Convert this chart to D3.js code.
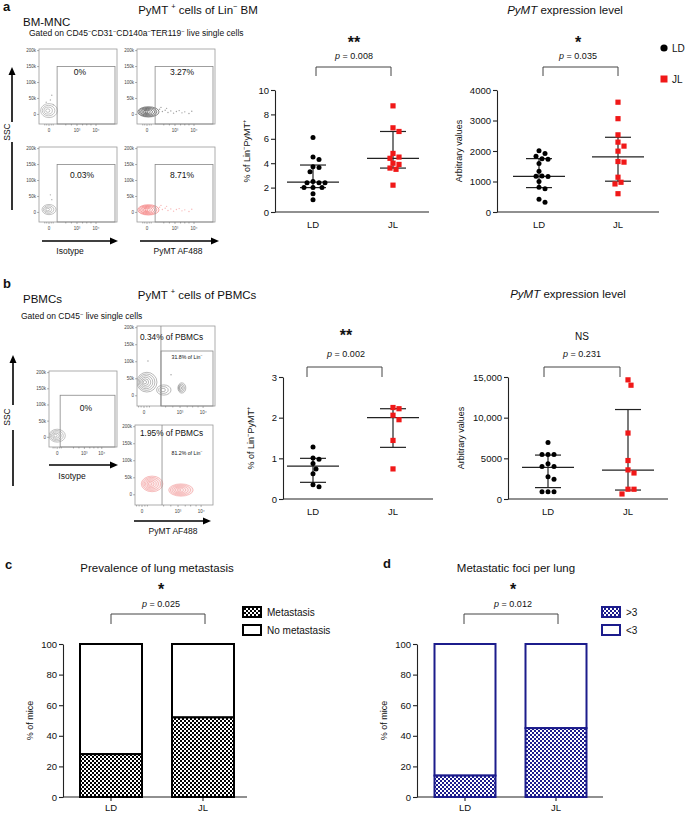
<!DOCTYPE html>
<html>
<head>
<meta charset="utf-8">
<script src="https://cdnjs.cloudflare.com/ajax/libs/d3/7.8.5/d3.min.js"></script>
<style>
body { margin: 0; background: #fff; }
svg { display: block; font-family: "Liberation Sans", Arial, sans-serif; }
</style>
</head>
<body>
<script>
// ---- data ----
var groups = ["LD", "JL"];

// a: % of Lin-PyMT+ in BM, and PyMT expression
var bmPctLD = [6.1, 4.5, 4.3, 3.7, 3.65, 3.3, 2.5, 2.4, 2.4, 2.4, 2.0, 2.0, 2.0, 1.5, 1.0];
var bmPctJL = [8.7, 6.9, 6.6, 4.8, 4.5, 4.4, 4.0, 3.9, 3.6, 3.5, 2.2];
var bmExprLD = [2010, 1920, 1830, 1750, 1730, 1590, 1340, 1175, 1165, 1180, 1000, 810, 760, 420, 320];
var bmExprJL = [3600, 3060, 2530, 2290, 2160, 1995, 1655, 1635, 1140, 975, 920, 600];

// b: PBMCs
var pbPctLD = [1.28, 1.01, 0.98, 0.87, 0.74, 0.62, 0.35, 0.3];
var pbPctJL = [2.25, 2.22, 2.06, 1.95, 1.44, 0.74];
var pbExprLD = [6950, 5470, 5470, 5470, 4320, 3990, 3990, 2750, 2430, 900, 900, 900];
var pbExprJL = [14650, 13990, 8110, 4730, 3580, 3200, 1200, 1200, 620];

// median, lower quartile, upper quartile as drawn
var bmPctSummary = [[2.45, 2.0, 3.85], [4.4, 3.6, 6.6]];
var bmExprSummary = [[1170, 800, 1750], [1810, 1010, 2450]];
var pbPctSummary = [[0.81, 0.41, 1.0], [2.0, 1.27, 2.22]];
var pbExprSummary = [[3900, 1400, 5400], [3550, 1100, 11000]];

// c, d: stacked percentages
var metastasis = [28, 52];
var fociOver3 = [14, 45];

// tick labels
var pctTicksA = [0, 2, 4, 6, 8, 10];
var exprTicksA = [0, 1000, 2000, 3000, 4000];
var pctTicksB = [0, 1, 2, 3];
var exprTicksB = [0, 5000, 10000, 15000];
var exprTicksBLabels = ["0", "5000", "10,000", "15,000"];
var barTicks = [0, 20, 40, 60, 80, 100];
var flowYTicks = [0, 50000, 100000, 150000, 200000];
var flowYLabels = ["0", "50k", "100k", "150k", "200k"];
var flowXLabels = ["0", "10\u00b3", "10\u2074"];

// flow cytometry populations (display units on x, SSC on y)
var isoBlobA = [{x: 0, y: 12000, rx: 0.3, ry: 22000, n: 4}];
var isoDotsA = [[0.05, 45000], [-0.1, 38000], [0.1, 60000], [0.15, 30000]];
var pymtBlobA = [{x: 0.05, y: 8000, rx: 0.38, ry: 16000, n: 6}];
var pymtTailA = [[0.45, 16000], [0.55, 9000], [0.65, 13000], [0.75, 6000], [0.85, 11000], [0.95, 4000],
  [1.05, 9000], [1.15, 12000], [1.25, 5000], [1.35, 8000], [1.5, 3000], [0.5, 22000], [0.7, 19000], [1.6, 10000]];
var isoBlobA2 = [{x: 0, y: 9000, rx: 0.25, ry: 16000, n: 4}];
var isoDotsA2 = [[0.1, 40000], [0.05, 55000]];
var isoBlobB = [{x: 0, y: 5000, rx: 0.3, ry: 20000, n: 5}];
var pbBlobTop = [{x: 0.08, y: 40000, rx: 0.28, ry: 29000, n: 6}, {x: 0.55, y: 17000, rx: 0.2, ry: 15000, n: 3},
  {x: 1.05, y: 23000, rx: 0.11, ry: 15000, n: 4}];
var pbDotsTop = [[0.11, 102000], [0.75, 62000]];
var pbBlobBot = [{x: 0.28, y: 32000, rx: 0.3, ry: 23000, n: 6}, {x: 1.08, y: 14000, rx: 0.34, ry: 18000, n: 6}];

var RED = "#f01818";
var NAVY = "#1c1c8c";

var svg = d3.select("body").append("svg").attr("width", 685).attr("height", 813);

var defs = svg.append("defs");
function checks(id, col) {
	var p = defs.append("pattern").attr("id", id).attr("width", 4).attr("height", 4)
		.attr("patternUnits", "userSpaceOnUse");
	p.append("rect").attr("width", 4).attr("height", 4).attr("fill", "#fff");
	p.append("rect").attr("width", 2).attr("height", 2).attr("fill", col);
	p.append("rect").attr("x", 2).attr("y", 2).attr("width", 2).attr("height", 2).attr("fill", col);
}
checks("chkBlack", "#000");
checks("chkNavy", NAVY);

// text with italic / superscript pieces
function addText(x, y, parts, fs, anchor, weight, rotate) {
	var t = svg.append("text").attr("font-size", fs).attr("text-anchor", anchor || "start").attr("fill", "#111");
	if (rotate) t.attr("transform", "translate(" + x + "," + y + ") rotate(-90)");
	else t.attr("x", x).attr("y", y);
	if (weight) t.attr("font-weight", weight);
	if (typeof parts === "string") parts = [{t: parts}];
	var shift = 0;
	parts.forEach(function(p) {
		var s = t.append("tspan").text(p.t);
		if (p.it) s.attr("font-style", "italic");
		if (p.sup) {
			s.attr("font-size", fs * 0.65).attr("dy", -fs * 0.4 - shift);
			shift = -fs * 0.4;
		} else {
			if (shift) s.attr("dy", -shift);
			shift = 0;
		}
	});
	return t;
}

function bracket(x1, x2, top, bot, star, starSize, starY, pval, pY, cx) {
	svg.append("path")
		.attr("d", "M" + x1 + "," + bot + "V" + top + "H" + x2 + "V" + bot)
		.attr("fill", "none").attr("stroke", "#444").attr("stroke-width", 1);
	addText(cx, starY, star, starSize, "middle", star === "NS" ? null : "bold");
	addText(cx, pY, [{t: "p", it: true}, {t: " = " + pval}], 9, "middle");
}

// beeswarm-like spreading of equal values
function dodge(values, y, minDist, step) {
	var idx = values.map(function(v, i) { return i; }).sort(function(a, b) { return values[b] - values[a]; });
	var placed = [], off = [];
	idx.forEach(function(i) {
		var py = y(values[i]);
		for (var k = 0; k < 30; k++) {
			var cand = (k % 2 === 1 ? 1 : -1) * Math.ceil(k / 2) * step;
			var ok = placed.every(function(p) { return Math.hypot(p.x - cand, p.y - py) >= minDist; });
			if (ok) { off[i] = cand; placed.push({x: cand, y: py}); break; }
		}
	});
	return off;
}

function scatter(c) {
	var y = d3.scaleLinear().domain([0, c.max]).range([c.yBottom, c.yTop]);
	var x = d3.scalePoint().domain(groups).range([c.xLD, c.xJL]);
	var ax = svg.append("g").attr("transform", "translate(" + c.axisX + ",0)")
		.call(d3.axisLeft(y).tickValues(c.ticks).tickSize(4).tickSizeOuter(0)
			.tickFormat(function(d, i) { return c.tickLabels ? c.tickLabels[i] : d; }));
	ax.attr("font-family", null).attr("font-size", 9.5);
	ax.selectAll("path, line").attr("stroke", "#222").attr("stroke-width", 1.1);
	ax.selectAll("text").attr("fill", "#111").attr("x", -6);
	svg.append("line").attr("x1", c.axisX).attr("x2", c.xEnd).attr("y1", c.yBottom).attr("y2", c.yBottom)
		.attr("stroke", "#222").attr("stroke-width", 1.1);
	groups.forEach(function(g) { addText(x(g), c.yBottom + 16, g, 9.5, "middle"); });

	[c.ld, c.jl].forEach(function(vals, gi) {
		var cx = x(groups[gi]);
		var s = c.summary[gi];
		var stroke = "#222";
		svg.append("line").attr("x1", cx).attr("x2", cx).attr("y1", y(s[1])).attr("y2", y(s[2]))
			.attr("stroke", stroke).attr("stroke-width", 1.2);
		svg.append("line").attr("x1", cx - 26).attr("x2", cx + 26).attr("y1", y(s[0])).attr("y2", y(s[0]))
			.attr("stroke", stroke).attr("stroke-width", 1.2);
		[s[1], s[2]].forEach(function(q) {
			svg.append("line").attr("x1", cx - 13).attr("x2", cx + 13).attr("y1", y(q)).attr("y2", y(q))
				.attr("stroke", stroke).attr("stroke-width", 1.2);
		});
		var off = dodge(vals, y, 5.6, 3);
		var pts = svg.append("g").selectAll(gi === 0 ? "circle" : "rect").data(vals).enter();
		if (gi === 0) {
			pts.append("circle").attr("cx", function(d, i) { return cx + off[i]; })
				.attr("cy", function(d) { return y(d); }).attr("r", 2.5).attr("fill", "#000");
		} else {
			pts.append("rect").attr("x", function(d, i) { return cx + off[i] - 2.6; })
				.attr("y", function(d) { return y(d) - 2.6; }).attr("width", 5.2).attr("height", 5.2).attr("fill", RED);
		}
	});
	addText(c.labelX, (c.yBottom + c.yTop) / 2, c.yLabel, 9, "middle", null, true);
}

function bars(c) {
	var y = d3.scaleLinear().domain([0, 100]).range([c.yBottom, c.yTop]);
	var x = d3.scalePoint().domain(groups).range([c.xLD, c.xJL]);
	var ax = svg.append("g").attr("transform", "translate(" + c.axisX + ",0)")
		.call(d3.axisLeft(y).tickValues(barTicks).tickSize(4).tickSizeOuter(0));
	ax.attr("font-family", null).attr("font-size", 9.5);
	ax.selectAll("path, line").attr("stroke", "#222").attr("stroke-width", 1.1);
	ax.selectAll("text").attr("fill", "#111").attr("x", -6);
	svg.append("line").attr("x1", c.axisX).attr("x2", c.xEnd).attr("y1", c.yBottom).attr("y2", c.yBottom)
		.attr("stroke", "#222").attr("stroke-width", 1.1);
	groups.forEach(function(g, i) {
		var cx = x(g);
		svg.append("line").attr("x1", cx).attr("x2", cx).attr("y1", c.yBottom).attr("y2", c.yBottom + 4)
			.attr("stroke", "#222").attr("stroke-width", 1.1);
		addText(cx, c.yBottom + 14, g, 9.5, "middle");
		var v = c.values[i];
		svg.append("rect").attr("x", cx - c.bw / 2).attr("width", c.bw)
			.attr("y", y(100)).attr("height", y(v) - y(100))
			.attr("fill", "#fff").attr("stroke", c.color).attr("stroke-width", 2);
		svg.append("rect").attr("x", cx - c.bw / 2).attr("width", c.bw)
			.attr("y", y(v)).attr("height", y(0) - y(v))
			.attr("fill", "url(#" + c.pattern + ")").attr("stroke", c.color).attr("stroke-width", 2);
	});
	addText(c.labelX, (c.yBottom + c.yTop) / 2, "% of mice", 9, "middle", null, true);
	// legend
	c.legend.forEach(function(l, i) {
		var ly = c.legY + i * 18;
		svg.append("rect").attr("x", c.legX).attr("y", ly).attr("width", 18).attr("height", 10)
			.attr("fill", i === 0 ? "url(#" + c.pattern + ")" : "#fff").attr("stroke", c.color).attr("stroke-width", 2);
		addText(c.legX + 24, ly + 9, l, 10, "start");
	});
}

function flow(c) {
	var x = d3.scaleLinear().domain(c.xDomain).range([c.x0, c.x0 + c.w]);
	var y = d3.scaleLinear().domain([-30000, 205000]).range([c.y0 + c.h, c.y0]);
	var g = svg.append("g");
	var clipId = "clip" + Math.round(c.x0) + "_" + Math.round(c.y0);
	defs.append("clipPath").attr("id", clipId).append("rect")
		.attr("x", c.x0).attr("y", c.y0).attr("width", c.w).attr("height", c.h);
	var inner = g.append("g").attr("clip-path", "url(#" + clipId + ")");
	if (c.fill) {
		c.blobs.forEach(function(b) {
			inner.append("ellipse").attr("cx", x(b.x)).attr("cy", y(b.y))
				.attr("rx", x(b.x + b.rx) - x(b.x)).attr("ry", y(b.y) - y(b.y + b.ry)).attr("fill", c.fill);
		});
	}
	c.blobs.forEach(function(b) {
		d3.range(1, b.n + 1).forEach(function(k) {
			inner.append("ellipse").attr("cx", x(b.x) - (b.n - k) * 0.4).attr("cy", y(b.y))
				.attr("rx", (x(b.x + b.rx) - x(b.x)) * k / b.n)
				.attr("ry", (y(b.y) - y(b.y + b.ry)) * k / b.n)
				.attr("fill", "none").attr("stroke", c.color).attr("stroke-width", 0.6).attr("opacity", 0.85);
		});
	});
	(c.dots || []).forEach(function(d) {
		inner.append("circle").attr("cx", x(d[0])).attr("cy", y(d[1])).attr("r", 0.7)
			.attr("fill", c.dotColor || c.color).attr("opacity", 0.7);
	});
	g.append("rect").attr("x", c.x0).attr("y", c.y0).attr("width", c.w).attr("height", c.h)
		.attr("fill", "none").attr("stroke", "#999").attr("stroke-width", 0.8);
	if (c.gateY !== undefined) {
		g.append("rect").attr("x", x(c.gateX)).attr("y", y(c.gateY))
			.attr("width", c.x0 + c.w - 2 - x(c.gateX)).attr("height", c.y0 + c.h - y(c.gateY))
			.attr("fill", "none").attr("stroke", "#888").attr("stroke-width", 0.8);
	} else {
		g.append("line").attr("x1", x(c.gateX)).attr("x2", x(c.gateX)).attr("y1", c.y0).attr("y2", c.y0 + c.h)
			.attr("stroke", "#888").attr("stroke-width", 0.8);
	}
	flowYTicks.forEach(function(t, i) {
		g.append("line").attr("x1", c.x0 - 2).attr("x2", c.x0).attr("y1", y(t)).attr("y2", y(t)).attr("stroke", "#666").attr("stroke-width", 0.5);
		g.append("text").attr("x", c.x0 - 3).attr("y", y(t) + 1.5).attr("text-anchor", "end")
			.attr("font-size", 4.5).attr("fill", "#444").text(flowYLabels[i]);
	});
	c.xTicks.forEach(function(t, i) {
		g.append("line").attr("x1", x(t)).attr("x2", x(t)).attr("y1", c.y0 + c.h).attr("y2", c.y0 + c.h + 2).attr("stroke", "#666").attr("stroke-width", 0.5);
		g.append("text").attr("x", x(t)).attr("y", c.y0 + c.h + 8).attr("text-anchor", "middle")
			.attr("font-size", 4.5).attr("fill", "#444").text(flowXLabels[i]);
	});
	[-0.15, -0.08, 0.08, 0.15, 0.6, 0.8, 1.2, 1.35, 1.5].forEach(function(t) {
		g.append("line").attr("x1", x(t)).attr("x2", x(t)).attr("y1", c.y0 + c.h).attr("y2", c.y0 + c.h + 1.5).attr("stroke", "#666").attr("stroke-width", 0.5);
	});
	(c.texts || []).forEach(function(t) {
		addText(t.x, t.y, t.s, t.fs, t.anchor || "middle");
	});
}

function hArrow(x1, x2, yy) {
	svg.append("line").attr("x1", x1).attr("x2", x2 - 6).attr("y1", yy).attr("y2", yy).attr("stroke", "#000").attr("stroke-width", 1.6);
	svg.append("path").attr("d", "M" + x2 + "," + yy + "l-8,-3.5v7z").attr("fill", "#000");
}
function vArrow(xx, y1, y2, gapTop, gapBot) {
	svg.append("line").attr("x1", xx).attr("x2", xx).attr("y1", y1 + 6).attr("y2", gapTop).attr("stroke", "#000").attr("stroke-width", 1.6);
	svg.append("line").attr("x1", xx).attr("x2", xx).attr("y1", gapBot).attr("y2", y2).attr("stroke", "#000").attr("stroke-width", 1.6);
	svg.append("path").attr("d", "M" + xx + "," + y1 + "l-3.5,8h7z").attr("fill", "#000");
}

// ---------------- panel a ----------------
addText(3, 11, "a", 13, "start", "bold");
addText(23, 26, "BM-MNC", 11.5, "start");
addText(29, 36, [{t: "Gated on CD45"}, {t: "\u2212", sup: true}, {t: "CD31"}, {t: "\u2212", sup: true},
	{t: "CD140a"}, {t: "\u2212", sup: true}, {t: "TER119"}, {t: "\u2212", sup: true}, {t: " live single cells"}], 8.5, "start");
addText(198, 14, [{t: "PyMT "}, {t: "+", sup: true}, {t: " cells of Lin"}, {t: "\u2212", sup: true}, {t: " BM"}], 11.5, "middle");
addText(565, 14, [{t: "PyMT", it: true}, {t: " expression level"}], 11.5, "middle");

var xDomA = [-0.357, 2.43];
var xTicksA = [0, 1, 1.68];
flow({x0: 39, y0: 49, w: 78, h: 75, xDomain: xDomA, xTicks: xTicksA, gateX: 0.29, gateY: 150000,
	blobs: isoBlobA, dots: isoDotsA, color: "#8a8a8a", texts: [{x: 80, y: 75, s: "0%", fs: 8.5}]});
flow({x0: 137, y0: 49, w: 78, h: 75, xDomain: xDomA, xTicks: xTicksA, gateX: 0.29, gateY: 150000,
	blobs: pymtBlobA, dots: pymtTailA, color: "#111", dotColor: "#777", texts: [{x: 182, y: 75, s: "3.27%", fs: 8.5}]});
flow({x0: 39, y0: 147, w: 78, h: 75, xDomain: xDomA, xTicks: xTicksA, gateX: 0.29, gateY: 150000,
	blobs: isoBlobA2, dots: isoDotsA2, color: "#8a8a8a", texts: [{x: 82, y: 178, s: "0.03%", fs: 8.5}]});
flow({x0: 137, y0: 147, w: 78, h: 75, xDomain: xDomA, xTicks: xTicksA, gateX: 0.29, gateY: 150000,
	blobs: pymtBlobA, dots: pymtTailA, color: "#f04848", dotColor: "#f59a9a", texts: [{x: 182, y: 178, s: "8.71%", fs: 8.5}]});
vArrow(12, 67, 210, 122, 142);
addText(10, 132, "SSC", 8.5, "middle", null, true);
hArrow(42, 118, 241);
hArrow(140, 219, 241);
addText(70, 254, "Isotype", 8.5, "middle");
addText(178, 254, "PyMT AF488", 8.5, "middle");

scatter({axisX: 275, xEnd: 429, yBottom: 212, yTop: 90, max: 10, ticks: pctTicksA, xLD: 313, xJL: 393,
	ld: bmPctLD, jl: bmPctJL, summary: bmPctSummary, labelX: 250,
	yLabel: [{t: "% of Lin"}, {t: "\u2212", sup: true}, {t: "PyMT"}, {t: "+", sup: true}]});
scatter({axisX: 497, xEnd: 659, yBottom: 212, yTop: 90, max: 4000, ticks: exprTicksA, xLD: 539, xJL: 618,
	ld: bmExprLD, jl: bmExprJL, summary: bmExprSummary, labelX: 462, yLabel: "Arbitrary values"});
bracket(316, 391, 67, 76, "**", 16, 47.5, "0.008", 58.5, 354);
bracket(543, 618, 67, 76, "*", 16, 47.5, "0.035", 58.5, 578);

// legend a
svg.append("circle").attr("cx", 664).attr("cy", 48).attr("r", 3.6).attr("fill", "#000");
addText(672, 52, "LD", 10, "start");
svg.append("rect").attr("x", 660.5).attr("y", 75.5).attr("width", 7).attr("height", 7).attr("fill", RED);
addText(672, 83, "JL", 10, "start");

// ---------------- panel b ----------------
addText(3, 288, "b", 13, "start", "bold");
addText(23, 303, "PBMCs", 11.5, "start");
addText(21, 319, [{t: "Gated on CD45"}, {t: "\u2212", sup: true}, {t: " live single cells"}], 8.5, "start");
addText(197, 299, [{t: "PyMT "}, {t: "+", sup: true}, {t: " cells of PBMCs"}], 11.5, "middle");
addText(568, 298, [{t: "PyMT", it: true}, {t: " expression level"}], 11.5, "middle");

var xTicksB = [0, 1, 1.64];
flow({x0: 49, y0: 371, w: 68, h: 76, xDomain: [-0.3, 2.2], xTicks: xTicksB, gateX: 0.11, gateY: 130000,
	blobs: isoBlobB, color: "#8a8a8a", texts: [{x: 86, y: 411, s: "0%", fs: 8.5}]});
flow({x0: 137, y0: 326, w: 78, h: 80, xDomain: [-0.194, 1.97], xTicks: xTicksB, gateX: 0.47,
	blobs: pbBlobTop, dots: pbDotsTop, color: "#777",
	texts: [{x: 140, y: 340, s: "0.34% of PBMCs", fs: 8.3, anchor: "start"},
		{x: 187, y: 359, s: [{t: "31.8% of Lin"}, {t: "\u2212", sup: true}], fs: 5.2}]});
flow({x0: 135, y0: 425, w: 78, h: 80, xDomain: [-0.194, 1.97], xTicks: xTicksB, gateX: 0.556,
	blobs: pbBlobBot, color: "#f08a8a", fill: "#fdeeee",
	texts: [{x: 140, y: 436, s: "1.95% of PBMCs", fs: 8.3, anchor: "start"},
		{x: 187, y: 455, s: [{t: "81.2% of Lin"}, {t: "\u2212", sup: true}], fs: 5.2}]});
// gate box for the upper PBMC plot
svg.append("rect").attr("x", 161).attr("y", 351).attr("width", 52).attr("height", 55)
	.attr("fill", "none").attr("stroke", "#888").attr("stroke-width", 0.8);
vArrow(13, 355, 486, 405, 430);
addText(10, 417, "SSC", 8.5, "middle", null, true);
hArrow(49, 118, 465);
hArrow(134, 211, 521);
addText(72, 479, "Isotype", 8.5, "middle");
addText(173, 534, "PyMT AF488", 8.5, "middle");

scatter({axisX: 283, xEnd: 433, yBottom: 499, yTop: 377, max: 3, ticks: pctTicksB, xLD: 313, xJL: 393,
	ld: pbPctLD, jl: pbPctJL, summary: pbPctSummary, labelX: 254,
	yLabel: [{t: "% of Lin"}, {t: "\u2212", sup: true}, {t: "PyMT"}, {t: "+", sup: true}]});
scatter({axisX: 508, xEnd: 668, yBottom: 499, yTop: 377, max: 15000, ticks: exprTicksB, tickLabels: exprTicksBLabels,
	xLD: 548, xJL: 628, ld: pbExprLD, jl: pbExprJL, summary: pbExprSummary, labelX: 464, yLabel: "Arbitrary values"});
bracket(307, 382, 367, 377, "**", 16, 340.5, "0.002", 356.5, 346);
bracket(544, 620, 367, 377, "NS", 10, 340, "0.231", 356.5, 582);

// ---------------- panel c ----------------
addText(5, 569, "c", 13, "start", "bold");
addText(157, 572, "Prevalence of lung metastasis", 11.5, "middle");
bracket(111, 205, 614, 624, "*", 16, 594.5, "0.025", 606.5, 161);
bars({axisX: 63, xEnd: 247, yBottom: 797, yTop: 644, xLD: 111, xJL: 203, bw: 62, values: metastasis,
	color: "#000", pattern: "chkBlack", labelX: 33, legX: 243, legY: 607, legend: ["Metastasis", "No metastasis"]});

// ---------------- panel d ----------------
addText(383, 568, "d", 13, "start", "bold");
addText(516, 572, "Metastatic foci per lung", 11.5, "middle");
bracket(464, 558, 614, 624, "*", 16, 594.5, "0.012", 606.5, 513);
bars({axisX: 417, xEnd: 603, yBottom: 797, yTop: 644, xLD: 465, xJL: 556, bw: 61, values: fociOver3,
	color: NAVY, pattern: "chkNavy", labelX: 387, legX: 602, legY: 607, legend: [">3", "<3"]});
</script>
</body>
</html>
